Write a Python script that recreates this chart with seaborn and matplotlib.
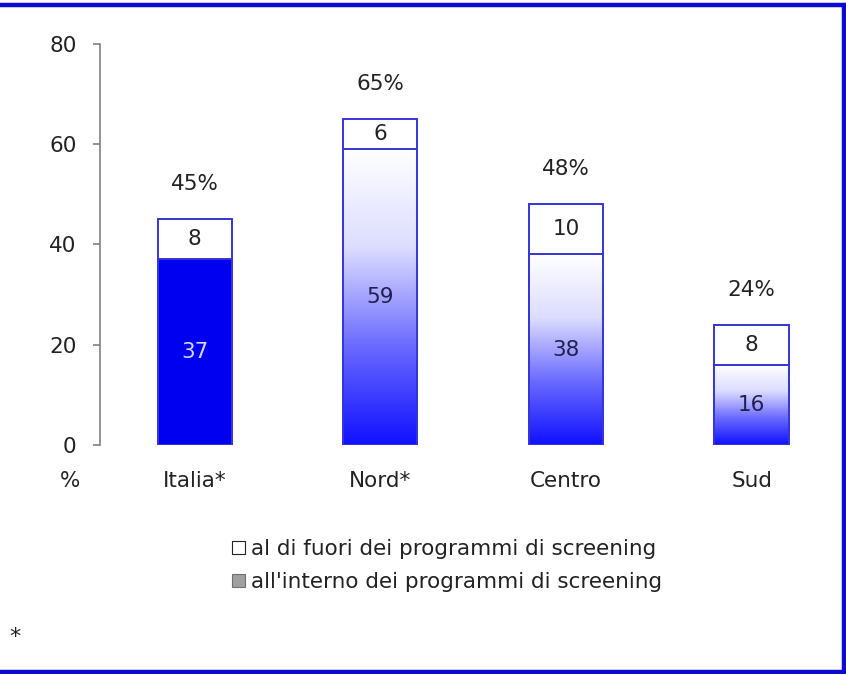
import numpy as np
import matplotlib
matplotlib.use("Agg")
import matplotlib.pyplot as plt
import seaborn as sns
from matplotlib.patches import Patch
from matplotlib.lines import Line2D
from matplotlib.colors import LinearSegmentedColormap

categories = ["Italia*", "Nord*", "Centro", "Sud"]
inside = [37, 59, 38, 16]       # all'interno dei programmi di screening
outside = [8, 6, 10, 8]         # al di fuori dei programmi di screening
total_labels = ["45%", "65%", "48%", "24%"]
yticks = [0, 20, 40, 60, 80]
legend_labels = ["al di fuori dei programmi di screening",
                 "all'interno dei programmi di screening"]

totals = [a + b for a, b in zip(inside, outside)]

sns.set_theme(style="white")
plt.rcParams['font.family'] = ['DejaVu Sans']
FS = 15.5

fig = plt.figure(figsize=(8.46, 6.74), dpi=100)
ax = fig.add_axes([0.1182, 0.3398, 0.869, 0.595])

edge = "#3535d8"
sns.barplot(x=categories, y=totals, color="white", edgecolor=edge,
            linewidth=1.4, width=0.4, saturation=1, ax=ax)
n_tot = len(ax.patches)
sns.barplot(x=categories, y=inside, color="#0000f0", edgecolor=edge,
            linewidth=1.4, width=0.4, saturation=1, ax=ax)
inner = ax.patches[n_tot:]

cmap = LinearSegmentedColormap.from_list("g", ["#1010ff", "#6a6aff", "#dcdcff", "#ffffff"])
grad = np.linspace(0, 1, 256).reshape(-1, 1)
for i, p in enumerate(inner):
    z = p.get_zorder()
    p.set_zorder(z + 0.2)
    if i == 0:
        continue
    x0, y0 = p.get_x(), p.get_y()
    w, h = p.get_width(), p.get_height()
    p.set_facecolor("none")
    im = ax.imshow(grad, extent=[x0, x0 + w, y0, y0 + h], origin="lower",
                   cmap=cmap, aspect="auto", zorder=z + 0.1,
                   interpolation="bicubic")
    im.set_clip_path(p)

ax.set_xlim(-0.51, 3.45)
ax.set_ylim(0, 80)
ax.set_yticks(yticks)
ax.set_xlabel("")
ax.set_ylabel("")

for i, (a, b, t) in enumerate(zip(inside, outside, total_labels)):
    col = "#d8d8ff" if i == 0 else "#202050"
    ax.text(i, a / 2, str(a), ha="center", va="center", fontsize=FS, color=col, zorder=5)
    ax.text(i, a + b / 2, str(b), ha="center", va="center", fontsize=FS, color="#222222", zorder=5)
    ax.text(i, a + b + 7, t, ha="center", va="center", fontsize=FS, color="#222222", zorder=5)

for s in ["top", "right", "bottom"]:
    ax.spines[s].set_visible(False)
ax.spines["left"].set_color("#808080")
ax.spines["left"].set_linewidth(1.2)
ax.tick_params(axis="y", left=True, length=5, width=1.2, color="#808080",
               labelsize=FS, labelcolor="#222222", pad=12)
ax.tick_params(axis="x", bottom=False, length=0, labelsize=FS, labelcolor="#222222", pad=19)

fig.text(0.0827, 0.2864, "%", ha="center", va="center", fontsize=FS, color="#222222")
fig.text(0.018, 0.055, "*", ha="center", va="center", fontsize=16, color="#222222")

handles = [Patch(facecolor="white", edgecolor="#222222", linewidth=0.8),
           Patch(facecolor="#a0a0a0", edgecolor="#707070", linewidth=0.8)]
fig.legend(handles, legend_labels, loc="center left", bbox_to_anchor=(0.274, 0.161),
           frameon=False, fontsize=FS, handlelength=0.6, handleheight=0.6,
           handletextpad=0.3, labelspacing=0.6, labelcolor="#222222",
           borderpad=0, borderaxespad=0)

bc = "#0a0ad0"
fig.add_artist(Line2D([0, 1], [1 - 5 / 674, 1 - 5 / 674], transform=fig.transFigure, color=bc, lw=3.2))
fig.add_artist(Line2D([1 - 2 / 846, 1 - 2 / 846], [0, 1 - 5 / 674], transform=fig.transFigure, color=bc, lw=3.2))
fig.add_artist(Line2D([0, 1], [2 / 674, 2 / 674], transform=fig.transFigure, color=bc, lw=3.2))

fig.savefig("out.png", dpi=100)
